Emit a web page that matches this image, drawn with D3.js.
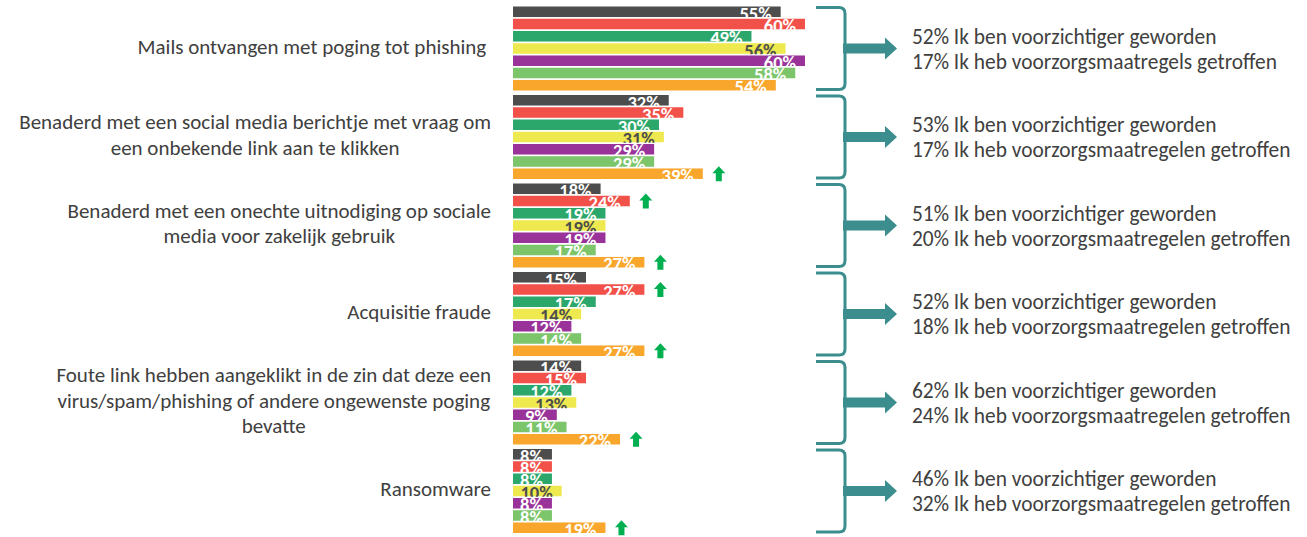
<!DOCTYPE html>
<html>
<head>
<meta charset="utf-8">
<script src="https://cdn.jsdelivr.net/npm/d3@7"></script>
<style>
  body { margin: 0; background: #fff; }
  svg { display: block; }
</style>
</head>
<body>
<div id="chart"></div>
<script>
// categories (left labels, already split in lines)
var categories = [
  ["Mails ontvangen met poging tot phishing\u00a0"],
  ["Benaderd met een social media berichtje met vraag om", "een onbekende link aan te klikken"],
  ["Benaderd met een onechte uitnodiging op sociale", "media voor zakelijk gebruik"],
  ["Acquisitie fraude"],
  ["Foute link hebben aangeklikt in de zin dat deze een", "virus/spam/phishing of andere ongewenste poging", "bevatte"],
  ["Ransomware"]
];
var series = ["Groep 1", "Groep 2", "Groep 3", "Groep 4", "Groep 5", "Groep 6", "Groep 7"];
var colors = ["#4d4d4d", "#f2514a", "#2ba76b", "#eee94f", "#993399", "#7cc56a", "#f9a62c"];

// one row of values per category, in series order
var values = [
  [55, 60, 49, 56, 60, 58, 54],
  [32, 35, 30, 31, 29, 29, 39],
  [18, 24, 19, 19, 19, 17, 27],
  [15, 27, 17, 14, 12, 14, 27],
  [14, 15, 12, 13, 9, 11, 22],
  [8, 8, 8, 10, 8, 8, 19]
];

// green "up" markers: [category index, series index]
var upArrows = [[1, 6], [2, 1], [2, 6], [3, 1], [3, 6], [4, 6], [5, 6]];

// right hand notes
var carefulPct = [52, 53, 51, 52, 62, 46];
var measuresPct = [17, 17, 20, 18, 24, 32];
var measuresText = ["Ik heb voorzorgsmaatregels getroffen", "Ik heb voorzorgsmaatregelen getroffen",
  "Ik heb voorzorgsmaatregelen getroffen", "Ik heb voorzorgsmaatregelen getroffen",
  "Ik heb voorzorgsmaatregelen getroffen", "Ik heb voorzorgsmaatregelen getroffen"];
var carefulText = "Ik ben voorzichtiger geworden";

var width = 1307, height = 537;
var font = "Carlito, Calibri, Lato, sans-serif";
var textColor = "#404040";
var teal = "#3c8d8d";

var svg = d3.select("#chart").append("svg")
  .attr("width", width)
  .attr("height", height);

var rows = categories.map(function(c, i) { return i; });

var y0 = d3.scaleBand()
  .domain(rows)
  .range([6.5, 537.5]);

var y1 = d3.scaleBand()
  .domain(series)
  .range([0, 84])
  .paddingInner(0.14);

var x = d3.scaleLinear()
  .domain([0, 60])
  .range([513, 805]);

var defs = svg.append("defs");

// left labels
var cats = svg.append("g").selectAll("g")
  .data(categories)
  .enter().append("g")
  .attr("transform", function(d, i) { return "translate(0," + (y0(i) + 42) + ")"; });

cats.each(function(lines) {
  var g = d3.select(this);
  var t = g.append("text")
    .attr("font-family", font)
    .attr("font-size", 21)
    .attr("fill", textColor)
    .attr("text-anchor", "middle");
  var n = lines.length;
  lines.forEach(function(l, k) {
    t.append("tspan")
      .attr("y", (k - (n - 1) / 2) * 25.5 + 5)
      .text(l);
  });
  // center the block, right edge at 491
  var w = d3.max(t.selectAll("tspan").nodes(), function(n) { return n.getComputedTextLength(); });
  t.selectAll("tspan").attr("x", 491 - w / 2);
});

// bars
var groups = svg.append("g").selectAll("g")
  .data(values)
  .enter().append("g")
  .attr("transform", function(d, i) { return "translate(0," + y0(i) + ")"; });

groups.each(function(row, gi) {
  var g = d3.select(this);
  row.forEach(function(v, si) {
    var s = series[si];
    var id = "clip-" + gi + "-" + si;
    defs.append("clipPath").attr("id", id)
      .append("rect")
      .attr("x", x(0))
      .attr("y", y0(gi) + y1(s))
      .attr("width", x(v) - x(0))
      .attr("height", y1.bandwidth() + 0.5);
    g.append("rect")
      .attr("x", x(0))
      .attr("y", y1(s))
      .attr("width", x(v) - x(0))
      .attr("height", y1.bandwidth())
      .attr("fill", colors[si]);
    svg.append("text")
      .attr("clip-path", "url(#" + id + ")")
      .attr("x", x(v) - 9)
      .attr("y", y0(gi) + y1(s) + 13.5)
      .attr("text-anchor", "end")
      .attr("font-family", font)
      .attr("font-weight", "bold")
      .attr("font-size", 18.5)
      .attr("fill", si === 3 ? "#4d4d4d" : "#fff")
      .text(v + "%");
  });
});

// green up arrows
svg.append("g").selectAll("path")
  .data(upArrows)
  .enter().append("path")
  .attr("transform", function(d) {
    var cx = x(values[d[0]][d[1]]) + 16;
    var cy = y0(d[0]) + y1(series[d[1]]) + y1.bandwidth() / 2;
    return "translate(" + cx + "," + cy + ")";
  })
  .attr("d", "M0,-7.5 L6.5,-0.5 L3,-0.5 L3,7.5 L-3,7.5 L-3,-0.5 L-6.5,-0.5 Z")
  .attr("fill", "#00b050");

// braces + arrows
var notes = svg.append("g").selectAll("g")
  .data(rows)
  .enter().append("g")
  .attr("transform", function(i) { return "translate(0," + y0(i) + ")"; });

notes.append("path")
  .attr("d", "M816,1 H839 Q845,1 845,7 V77 Q845,83 839,83 H816")
  .attr("fill", "none")
  .attr("stroke", teal)
  .attr("stroke-width", 3);

notes.append("path")
  .attr("d", "M843,37 H885 V31 L897,42 L885,53 V47 H843 Z")
  .attr("fill", teal);

var note = notes.append("text")
  .attr("font-family", font)
  .attr("font-size", 21.4)
  .attr("fill", textColor);
note.append("tspan")
  .attr("x", 912)
  .attr("y", 37)
  .text(function(i) { return carefulPct[i] + "% " + carefulText; });
note.append("tspan")
  .attr("x", 912)
  .attr("y", 62)
  .text(function(i) { return measuresPct[i] + "% " + measuresText[i]; });
</script>
</body>
</html>
